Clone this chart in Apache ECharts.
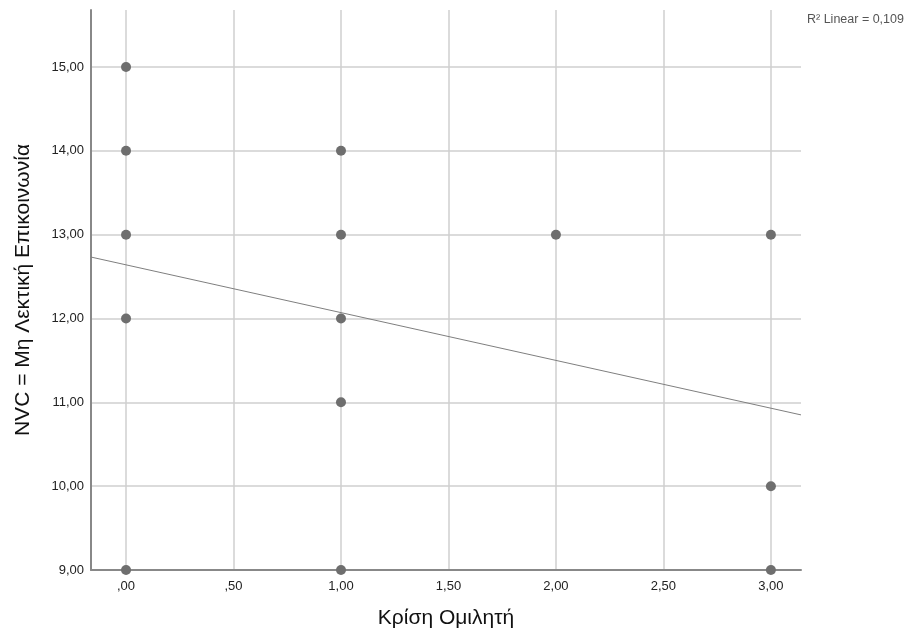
<!DOCTYPE html>
<html>
<head>
<meta charset="utf-8">
<script src="https://cdn.jsdelivr.net/npm/echarts@6/dist/echarts.min.js"></script>
<style>
html,body{margin:0;padding:0;background:#fff;}
#chart{width:914px;height:635px;}
</style>
</head>
<body>
<div id="chart"></div>
<script>
// Data
const xValues = [0, 0, 0, 0, 0, 1, 1, 1, 1, 1, 2, 3, 3, 3];
const yValues = [15, 14, 13, 12, 9, 14, 13, 12, 11, 9, 13, 13, 10, 9];
const xTicks = [0, 0.5, 1, 1.5, 2, 2.5, 3];
const yTicks = [9, 10, 11, 12, 13, 14, 15];
const fitIntercept = 12.64;
const fitSlope = -0.57;
const xRange = [-0.163, 3.14];
const yRange = [9, 15.68];
const r2Text = 'R\u00B2 Linear = 0,109';

function fmt(v) {
  let s = Number(v).toFixed(2).replace('.', ',');
  if (s.startsWith('0,')) s = s.slice(1);
  return s;
}

const points = xValues.map((x, i) => [x, yValues[i]]);
const fitLine = xRange.map(x => [x, fitIntercept + fitSlope * x]);

const chart = echarts.init(document.getElementById('chart'), null, {renderer: 'canvas'});
const font = 'Liberation Sans, Arial, sans-serif';
chart.setOption({
  animation: false,
  backgroundColor: '#ffffff',
  grid: {left: 91, right: 113, top: 10, bottom: 65},
  xAxis: {
    type: 'value',
    min: xRange[0], max: xRange[1],
    name: 'Κρίση Ομιλητή',
    nameLocation: 'middle',
    nameGap: 38,
    nameTextStyle: {fontFamily: font, fontSize: 21, color: '#111'},
    axisLine: {show: true, onZero: false, lineStyle: {color: '#888888', width: 2}},
    axisTick: {show: false, customValues: xTicks},
    axisLabel: {customValues: xTicks, formatter: fmt, fontFamily: font, fontSize: 13, color: '#222', margin: 10},
    splitLine: {show: true, lineStyle: {color: '#cfcfcf', width: 1.5}}
  },
  yAxis: {
    type: 'value',
    min: yRange[0], max: yRange[1],
    name: 'NVC = Μη Λεκτική Επικοινωνία',
    nameLocation: 'middle',
    nameGap: 57,
    nameTextStyle: {fontFamily: font, fontSize: 21, color: '#111'},
    axisLine: {show: true, onZero: false, lineStyle: {color: '#888888', width: 2}},
    axisTick: {show: false, customValues: yTicks},
    axisLabel: {customValues: yTicks, formatter: fmt, fontFamily: font, fontSize: 13, color: '#222', margin: 7},
    splitLine: {show: true, lineStyle: {color: '#cfcfcf', width: 1.5}}
  },
  graphic: [{
    type: 'text',
    left: 807, top: 13,
    style: {text: r2Text, fontFamily: font, fontSize: 12.5, fill: '#555'}
  }],
  series: [
    {
      type: 'line',
      data: fitLine,
      symbol: 'none',
      lineStyle: {color: '#7f7f7f', width: 1},
      silent: true,
      z: 2
    },
    {
      type: 'scatter',
      data: points,
      symbolSize: 10,
      itemStyle: {color: '#6e6e6e', opacity: 1},
      z: 3
    }
  ]
});
</script>
</body>
</html>
